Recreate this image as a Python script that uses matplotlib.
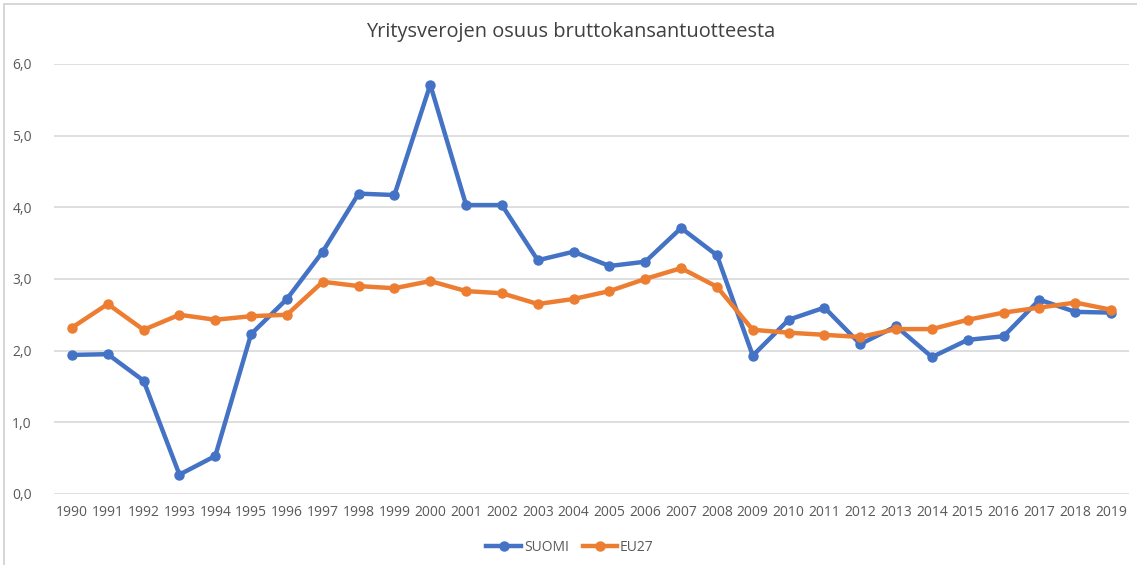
import matplotlib.pyplot as plt
import matplotlib.patches as patches

years = [str(y) for y in range(1990, 2020)]
suomi = [1.94, 1.95, 1.58, 0.27, 0.53, 2.23, 2.72, 3.38, 4.19, 4.17,
         5.71, 4.03, 4.03, 3.26, 3.38, 3.18, 3.24, 3.71, 3.33, 1.93,
         2.43, 2.60, 2.09, 2.34, 1.91, 2.15, 2.20, 2.71, 2.54, 2.53]
eu27 = [2.32, 2.65, 2.29, 2.50, 2.43, 2.48, 2.50, 2.96, 2.90, 2.87,
        2.97, 2.83, 2.80, 2.65, 2.72, 2.83, 3.00, 3.15, 2.89, 2.29,
        2.25, 2.22, 2.19, 2.30, 2.30, 2.43, 2.53, 2.60, 2.67, 2.57]
yticks = [0, 1, 2, 3, 4, 5, 6]
ytick_labels = ["0,0", "1,0", "2,0", "3,0", "4,0", "5,0", "6,0"]

plt.rcParams['font.family'] = ['Open Sans', 'DejaVu Sans']

fig = plt.figure(figsize=(11.37, 5.65), dpi=100)
ax = fig.add_axes([0.0475, 0.1257, 0.9455, 0.7613])

x = list(range(len(years)))
ax.plot(x, suomi, color='#4472C4', linewidth=3.2, marker='o', markersize=6.5, label='SUOMI', zorder=3)
ax.plot(x, eu27, color='#ED7D31', linewidth=3.2, marker='o', markersize=6.5, label='EU27', zorder=4)

ax.set_xlim(-0.5, len(years) - 0.5)
ax.set_ylim(0, 6)
ax.set_xticks(x)
ax.set_xticklabels(years)
ax.set_yticks(yticks)
ax.set_yticklabels(ytick_labels)
ax.tick_params(length=0, colors='#595959', labelsize=10)
ax.tick_params(axis='y', pad=16)
ax.tick_params(axis='x', pad=8)
ax.grid(axis='y', color='#D9D9D9', linewidth=1.2)
ax.set_axisbelow(True)
for s in ax.spines.values():
    s.set_visible(False)

fig.text(0.502, 0.943, "Yritysverojen osuus bruttokansantuotteesta", ha='center', va='center',
         fontsize=14.4, color='#404040')

ax.legend(loc='center', bbox_to_anchor=(0.48, -0.125), ncol=2, frameon=False,
          fontsize=10, labelcolor='#595959', handlelength=2.5, columnspacing=1.0, handletextpad=0.2)

fig.patches.append(patches.Rectangle((4 / 1137, -0.01), 1.1, 1 - 4 / 565 + 0.01,
                                     transform=fig.transFigure, fill=False,
                                     edgecolor='#D0D0D0', linewidth=1.2))

plt.savefig('out.png')
